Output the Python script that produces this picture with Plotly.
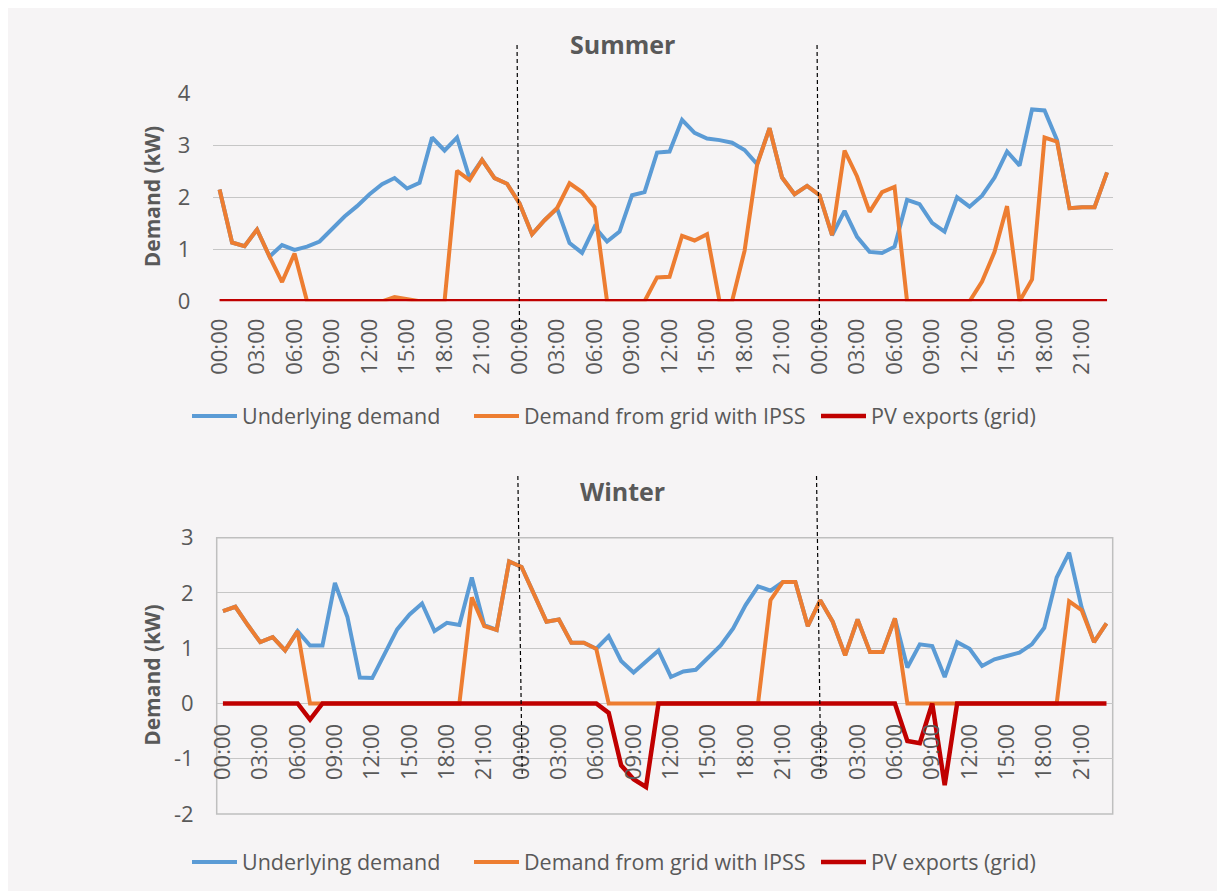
import plotly.graph_objects as go

# ---------------- data ----------------
day_hours = ["00:00", "01:00", "02:00", "03:00", "04:00", "05:00", "06:00", "07:00",
             "08:00", "09:00", "10:00", "11:00", "12:00", "13:00", "14:00", "15:00",
             "16:00", "17:00", "18:00", "19:00", "20:00", "21:00", "22:00", "23:00"]
time_labels = day_hours + day_hours + day_hours  # three consecutive days

series_names = ["Underlying demand", "Demand from grid with IPSS", "PV exports (grid)"]

summer_underlying = [
    2.15, 1.13, 1.06, 1.38, 0.86, 1.08, 0.99, 1.05, 1.15, 1.38, 1.63, 1.83,
    2.06, 2.25, 2.37, 2.17, 2.28, 3.15, 2.90, 3.15, 2.37, 2.72, 2.37, 2.26,
    1.88, 1.29, 1.56, 1.79, 1.12, 0.93, 1.43, 1.15, 1.34, 2.04, 2.10, 2.86,
    2.88, 3.49, 3.24, 3.13, 3.10, 3.05, 2.91, 2.64, 3.33, 2.38, 2.06, 2.22,
    2.04, 1.27, 1.74, 1.24, 0.95, 0.93, 1.05, 1.95, 1.87, 1.51, 1.34, 2.00,
    1.82, 2.03, 2.38, 2.88, 2.61, 3.69, 3.67, 3.10, 1.79, 1.81, 1.81, 2.48]
summer_grid_ipss = [
    2.15, 1.13, 1.06, 1.38, 0.86, 0.37, 0.92, 0.00, 0.00, 0.00, 0.00, 0.00,
    0.00, 0.00, 0.08, 0.04, 0.00, 0.00, 0.00, 2.51, 2.33, 2.72, 2.37, 2.26,
    1.88, 1.29, 1.56, 1.79, 2.27, 2.10, 1.81, 0.00, 0.00, 0.00, 0.00, 0.46,
    0.47, 1.26, 1.17, 1.29, 0.00, 0.00, 0.97, 2.62, 3.33, 2.38, 2.06, 2.22,
    2.04, 1.27, 2.90, 2.40, 1.72, 2.10, 2.20, 0.00, 0.00, 0.00, 0.00, 0.00,
    0.00, 0.38, 0.95, 1.83, 0.00, 0.42, 3.15, 3.07, 1.79, 1.81, 1.81, 2.48]
summer_pv_exports = [
    0, 0, 0, 0, 0, 0, 0, 0, 0, 0, 0, 0, 0, 0, 0, 0, 0, 0, 0, 0, 0, 0, 0, 0,
    0, 0, 0, 0, 0, 0, 0, 0, 0, 0, 0, 0, 0, 0, 0, 0, 0, 0, 0, 0, 0, 0, 0, 0,
    0, 0, 0, 0, 0, 0, 0, 0, 0, 0, 0, 0, 0, 0, 0, 0, 0, 0, 0, 0, 0, 0, 0, 0]

winter_underlying = [
    1.67, 1.75, 1.42, 1.11, 1.20, 0.96, 1.31, 1.05, 1.05, 2.18, 1.57, 0.47,
    0.46, 0.90, 1.34, 1.61, 1.81, 1.31, 1.46, 1.42, 2.28, 1.42, 1.33, 2.57,
    2.47, 1.98, 1.48, 1.52, 1.10, 1.10, 0.99, 1.22, 0.77, 0.56, 0.75, 0.96,
    0.48, 0.58, 0.61, 0.83, 1.05, 1.36, 1.78, 2.12, 2.04, 2.20, 2.20, 1.40,
    1.87, 1.48, 0.87, 1.52, 0.93, 0.93, 1.54, 0.65, 1.07, 1.04, 0.48, 1.11,
    0.99, 0.68, 0.80, 0.86, 0.92, 1.07, 1.37, 2.28, 2.73, 1.74, 1.11, 1.45]
winter_grid_ipss = [
    1.67, 1.75, 1.42, 1.11, 1.20, 0.96, 1.31, 0.00, 0.00, 0.00, 0.00, 0.00,
    0.00, 0.00, 0.00, 0.00, 0.00, 0.00, 0.00, 0.00, 1.92, 1.40, 1.33, 2.57,
    2.47, 1.98, 1.48, 1.52, 1.10, 1.10, 0.99, 0.00, 0.00, 0.00, 0.00, 0.00,
    0.00, 0.00, 0.00, 0.00, 0.00, 0.00, 0.00, 0.00, 1.87, 2.20, 2.20, 1.40,
    1.87, 1.48, 0.87, 1.52, 0.93, 0.93, 1.54, 0.00, 0.00, 0.00, 0.00, 0.00,
    0.00, 0.00, 0.00, 0.00, 0.00, 0.00, 0.00, 0.00, 1.85, 1.69, 1.11, 1.45]
winter_pv_exports = [
    0, 0, 0, 0, 0, 0, 0, -0.29, 0, 0, 0, 0, 0, 0, 0, 0, 0, 0, 0, 0, 0, 0, 0, 0,
    0, 0, 0, 0, 0, 0, 0, -0.17, -1.12, -1.37, -1.51, 0, 0, 0, 0, 0, 0, 0, 0, 0, 0, 0, 0, 0,
    0, 0, 0, 0, 0, 0, 0, -0.68, -0.72, 0, -1.48, 0, 0, 0, 0, 0, 0, 0, 0, 0, 0, 0, 0, 0]

summer_y_ticks = [0, 1, 2, 3, 4]
winter_y_ticks = [-2, -1, 0, 1, 2, 3]
day_boundaries = [24, 48]

# ---------------- style ----------------
OFF = 8                      # page body margin of the browser
FW, FH = 1225 - OFF, 891 - OFF
FONT = "Open Sans"
TXT = "#595959"
BG = "#F6F4F5"
GRID = "#C6C6C6"
colors = ["#5B9BD5", "#ED7D31", "#C00000"]
widths = [4, 4, 4.5]


def px(x):
    return (x - OFF) / FW


def py(y):
    return (FH - (y - OFF)) / FH


x_idx = list(range(len(time_labels)))
tick_vals = x_idx[::3]
tick_text = time_labels[::3]

# plot areas in page pixels (left, top, right, bottom)
s_box = (213.3, 93.3, 1113.3, 301.3)
w_box = (216.7, 537.7, 1112.7, 814.0)


def xdom(b):
    return [px(b[0]), px(b[2])]


def ydom(b):
    return [py(b[3]), py(b[1])]


legend_x_px = [193, 475, 822]
legend_y_px = {"summer": 416, "winter": 862}

fig = go.Figure()

k = 0
for season, sets, xa, ya in (("summer", [summer_underlying, summer_grid_ipss, summer_pv_exports], "x", "y"),
                             ("winter", [winter_underlying, winter_grid_ipss, winter_pv_exports], "x2", "y2")):
    for i, (vals, name, col, lw) in enumerate(zip(sets, series_names, colors, widths)):
        k += 1
        lg = "legend" if k == 1 else f"legend{k}"
        fig.add_trace(go.Scatter(x=x_idx, y=vals, name=name, mode="lines",
                                 line=dict(color=col, width=lw, shape="linear"),
                                 xaxis=xa, yaxis=ya, legend=lg))
        fig.update_layout({lg: dict(orientation="h", x=px(legend_x_px[i] - 6), xanchor="left",
                                    y=py(legend_y_px[season]), yanchor="middle",
                                    font=dict(family=FONT, size=21.5, color=TXT),
                                    bgcolor="rgba(0,0,0,0)", itemwidth=45,
                                    borderwidth=0)})

tickfont = dict(family=FONT, size=22, color=TXT)

w_ydom = ydom(w_box)
w_zero_pos = w_ydom[0] + (0 - (-2)) / (3 - (-2)) * (w_ydom[1] - w_ydom[0])

common_x = dict(range=[-0.5, 71.5], tickmode="array", tickvals=tick_vals, ticktext=tick_text,
                tickangle=-90, showgrid=False, zeroline=False, showline=False, ticks="",
                tickfont=tickfont, automargin=False, fixedrange=True)
common_y = dict(showgrid=True, gridcolor=GRID, gridwidth=1.3, zeroline=False,
                showline=False, ticks="", tickfont=tickfont, automargin=False,
                ticklabelstandoff=22, fixedrange=True, tickmode="array")

fig.update_layout(
    width=FW, height=FH,
    margin=dict(l=0, r=0, t=0, b=0, pad=0),
    paper_bgcolor=BG, plot_bgcolor=BG,
    font=dict(family=FONT, color=TXT),
    xaxis=dict(domain=xdom(s_box), anchor="y", ticklabelstandoff=12, **common_x),
    yaxis=dict(domain=ydom(s_box), anchor="x", range=[0, 4], tickvals=summer_y_ticks,
               ticktext=[str(v) for v in summer_y_ticks], **common_y),
    xaxis2=dict(domain=xdom(w_box), anchor="free", position=w_zero_pos, ticklabelstandoff=15,
                **common_x),
    yaxis2=dict(domain=w_ydom, anchor="x2", range=[-2, 3], tickvals=winter_y_ticks,
                ticktext=[str(v) for v in winter_y_ticks], **common_y),
    showlegend=True,
)

# titles
fig.add_annotation(text="<b>Summer</b>", x=px(622), y=py(44), xref="paper", yref="paper",
                   showarrow=False, font=dict(family=FONT, size=25, color=TXT),
                   xanchor="center", yanchor="middle")
fig.add_annotation(text="<b>Winter</b>", x=px(622), y=py(491), xref="paper", yref="paper",
                   showarrow=False, font=dict(family=FONT, size=25, color=TXT),
                   xanchor="center", yanchor="middle")
# axis titles
for dom in (ydom(s_box), w_ydom):
    fig.add_annotation(text="<b>Demand (kW)</b>", x=px(152), y=(dom[0] + dom[1]) / 2,
                       xref="paper", yref="paper", textangle=-90, showarrow=False,
                       font=dict(family=FONT, size=21, color=TXT),
                       xanchor="center", yanchor="middle")

# winter plot-area box
fig.add_shape(type="rect", xref="x2 domain", yref="y2 domain", x0=0, x1=1, y0=0, y1=1,
              line=dict(color="#BFBFBF", width=1.5), layer="below")

# day separators (dashed)
for d in day_boundaries:
    fig.add_shape(type="line", xref="x", yref="paper", x0=d - 0.2, x1=d,
                  y0=py(45), y1=py(332),
                  line=dict(color="black", width=1.2, dash="4px,3px"), layer="above")
    fig.add_shape(type="line", xref="x2", yref="paper", x0=d - 0.3, x1=d + 0.05,
                  y0=py(476), y1=py(775),
                  line=dict(color="black", width=1.2, dash="4px,3px"), layer="above")

fig.write_html("out.html")
